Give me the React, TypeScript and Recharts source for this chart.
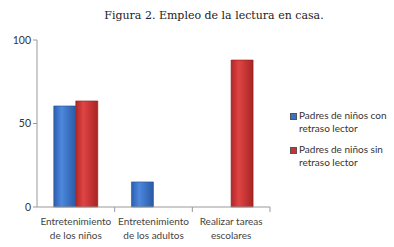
import React from "react";
import { BarChart, Bar, XAxis, YAxis, Legend } from "recharts";

const categories = ["Entretenimiento|de los niños", "Entretenimiento|de los adultos", "Realizar tareas|escolares"];
const conRetraso = [60.5, 15, null];
const sinRetraso = [63.5, null, 88];
const yTicks = [0, 50, 100];
const seriesNames = ["Padres de niños con retraso lector", "Padres de niños sin retraso lector"];

const data = categories.map((c, i) => ({ cat: c, con: conRetraso[i], sin: sinRetraso[i] }));

const W = 394;
const H = 247;
const LEG_W = 104;
const M = { top: 40, right: 124 - LEG_W, bottom: 10, left: 0 };
const Y_W = 37;
const X_H = 30;
const plotW = W - 124 - Y_W;
const band = plotW / categories.length;

const FONT = "Lato, 'Open Sans', sans-serif";

const XTick = (props: any) => {
  const { x, y, payload } = props;
  const lines = String(payload.value).split("|");
  return (
    <g>
      <line x1={x + band / 2} x2={x + band / 2} y1={y - 8} y2={y - 3} stroke="#999" />
      {lines.map((l, i) => (
        <text key={i} x={x} y={y + 10 + i * 14} textAnchor="middle" fontSize={10} fill="#444" fontFamily={FONT}>
          {l}
        </text>
      ))}
    </g>
  );
};

const LegendContent = () => {
  const colors = ["#3a72c8", "#c83434"];
  const lines = [["Padres de niños con", "retraso lector"], ["Padres de niños sin", "retraso lector"]];
  return (
    <div style={{ fontFamily: FONT, fontSize: 10, color: "#333", lineHeight: "13px" }}>
      {seriesNames.map((n, i) => (
        <div key={n} style={{ display: "flex", marginBottom: 8 }}>
          <span style={{ width: 5, height: 5, background: colors[i], border: "1px solid #555", marginTop: 4, marginRight: 2, flexShrink: 0 }} />
          <div>
            {lines[i].map((l) => (
              <div key={l}>{l}</div>
            ))}
          </div>
        </div>
      ))}
    </div>
  );
};

export default function App() {
  return (
    <div style={{ position: "absolute", left: 0, top: 0, width: W, height: H, background: "#fff" }}>
      <div
        style={{
          position: "absolute",
          top: 9,
          left: 214 - 150,
          width: 300,
          textAlign: "center",
          fontFamily: "'DejaVu Serif', serif",
          fontSize: 11,
          color: "#222",
        }}
      >
        Figura 2. Empleo de la lectura en casa.
      </div>
      <BarChart width={W} height={H} data={data} margin={M} barCategoryGap="21.6%" barGap={0}>
        <defs>
          <linearGradient id="gBlue" x1="0" y1="0" x2="1" y2="0">
            <stop offset="0%" stopColor="#2c5fb0" />
            <stop offset="35%" stopColor="#4c88dc" />
            <stop offset="100%" stopColor="#2a5aa6" />
          </linearGradient>
          <linearGradient id="gRed" x1="0" y1="0" x2="1" y2="0">
            <stop offset="0%" stopColor="#b02828" />
            <stop offset="35%" stopColor="#e04444" />
            <stop offset="100%" stopColor="#a82424" />
          </linearGradient>
        </defs>
        <XAxis dataKey="cat" height={X_H} tick={<XTick />} tickLine={false} axisLine={{ stroke: "#999" }} interval={0} />
        <YAxis
          width={Y_W}
          domain={[0, 100]}
          ticks={yTicks}
          tickSize={4}
          tickLine={{ stroke: "#999" }}
          axisLine={{ stroke: "#999" }}
          tick={{ fontSize: 10.5, fill: "#333", fontFamily: FONT }}
        />
        <Legend
          layout="vertical"
          align="right"
          verticalAlign="middle"
          content={<LegendContent />}
          wrapperStyle={{ left: 290, top: 109, width: LEG_W }}
        />
        <Bar dataKey="con" name={seriesNames[0]} fill="url(#gBlue)" stroke="#27508f" strokeWidth={0.6} isAnimationActive={false} />
        <Bar dataKey="sin" name={seriesNames[1]} fill="url(#gRed)" stroke="#8e1f1f" strokeWidth={0.6} isAnimationActive={false} />
      </BarChart>
    </div>
  );
}
